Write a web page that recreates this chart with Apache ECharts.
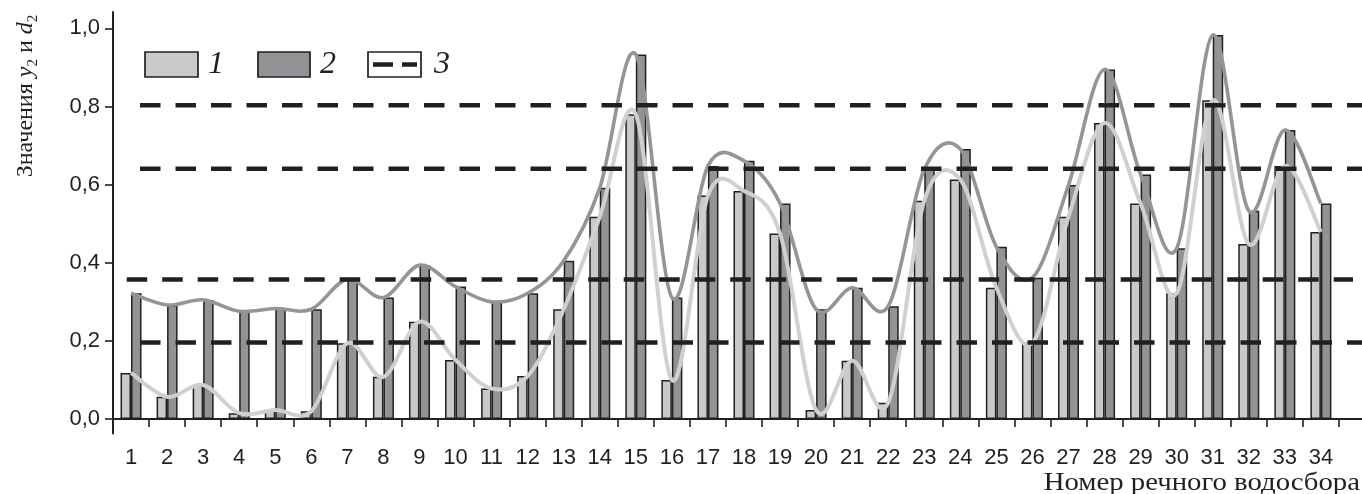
<!DOCTYPE html>
<html>
<head>
<meta charset="utf-8">
<style>
  html, body { margin: 0; padding: 0; background: #ffffff; }
  #chart { width: 1362px; height: 494px; }
</style>
<script src="https://cdn.jsdelivr.net/npm/echarts@6/dist/echarts.min.js"></script>
</head>
<body>
<div id="chart"></div>
<script>
// River catchment numbers (x categories)
const catchments = [1, 2, 3, 4, 5, 6, 7, 8, 9, 10, 11, 12, 13, 14, 15, 16, 17,
                    18, 19, 20, 21, 22, 23, 24, 25, 26, 27, 28, 29, 30, 31, 32, 33, 34];

// Series 1: y2 values
const y2Values = [0.118, 0.057, 0.087, 0.015, 0.023, 0.020, 0.194, 0.108, 0.249, 0.151,
                  0.078, 0.110, 0.281, 0.518, 0.780, 0.100, 0.572, 0.584, 0.475, 0.023,
                  0.149, 0.042, 0.559, 0.613, 0.336, 0.195, 0.518, 0.758, 0.552, 0.322,
                  0.816, 0.448, 0.648, 0.479];

// Series 2: d2 values
const d2Values = [0.322, 0.292, 0.305, 0.276, 0.283, 0.281, 0.358, 0.311, 0.394, 0.339,
                  0.300, 0.322, 0.405, 0.592, 0.933, 0.311, 0.648, 0.661, 0.552, 0.281,
                  0.336, 0.289, 0.639, 0.691, 0.441, 0.362, 0.599, 0.895, 0.626, 0.437,
                  0.983, 0.533, 0.740, 0.552];

// Series 3: threshold levels (dashed lines)
const thresholds = [0.803, 0.641, 0.357, 0.196];

// Y tick labels
const yTicks = [0, 0.2, 0.4, 0.6, 0.8, 1.0];

// ---- styling / layout ----
const INK = '#231f20';
const LIGHT = '#c8c9cb';
const DARK = '#929396';
const LIGHT_CURVE = '#cfd0d2';
const DARK_CURVE = '#939598';
const X_MIN = 0.5, X_MAX = 35.14;
// where each dashed level starts/ends along the x axis
const dashStart = [1.249, 1.249, 0.88, 1.249];
const dashEnd = [X_MAX, X_MAX, 34.89, X_MAX];

const xTicks = catchments.map(c => c - 0.5).concat([catchments[catchments.length - 1] + 0.5]);

const chart = echarts.init(document.getElementById('chart'), null, { renderer: 'canvas' });

const barSeries = (name, values, color) => ({
  name, type: 'bar', z: 2,
  data: catchments.map((c, i) => [c, values[i]]),
  barWidth: 10.5, barGap: '0%',
  itemStyle: { color, borderColor: INK, borderWidth: 1.5 },
  emphasis: { disabled: true }
});

// Smoothed curve through the points (cardinal spline, tension 1/6 per side)
const curveSeries = (name, values, color, width) => ({
  name, type: 'custom', z: 3,
  data: catchments.map((c, i) => [c, values[i]]),
  encode: { x: 0, y: 1 },
  silent: true,
  renderItem: (params, api) => {
    if (params.dataIndex !== 0) return null;
    const p = catchments.map((c, i) => api.coord([c, values[i]]));
    const n = p.length;
    let d = 'M' + p[0][0] + ' ' + p[0][1];
    for (let i = 0; i < n - 1; i++) {
      const p0 = p[Math.max(i - 1, 0)], p1 = p[i], p2 = p[i + 1], p3 = p[Math.min(i + 2, n - 1)];
      const c1x = p1[0] + (p2[0] - p0[0]) / 6, c1y = p1[1] + (p2[1] - p0[1]) / 6;
      const c2x = p2[0] - (p3[0] - p1[0]) / 6, c2y = p2[1] - (p3[1] - p1[1]) / 6;
      d += ' C' + c1x + ' ' + c1y + ' ' + c2x + ' ' + c2y + ' ' + p2[0] + ' ' + p2[1];
    }
    return {
      type: 'path',
      shape: { pathData: d },
      style: { fill: 'none', stroke: color, lineWidth: width, lineJoin: 'round' }
    };
  }
});

const levelSeries = thresholds.map((t, i) => ({
  name: 'level' + i, type: 'line', z: 4,
  data: [[dashStart[i], t], [dashEnd[i], t]],
  showSymbol: false, symbol: 'none',
  lineStyle: { color: INK, width: 4.5, type: [20.5, 15], cap: 'butt' },
  emphasis: { disabled: true }
}));

const serif = "'Liberation Serif', 'Times New Roman', serif";
const sans = "'Liberation Sans', Arial, sans-serif";

chart.setOption({
  animation: false,
  backgroundColor: '#ffffff',
  grid: { left: 113, right: 0, top: 12, bottom: 60.5 },
  xAxis: {
    type: 'value', min: X_MIN, max: X_MAX,
    axisLine: { onZero: true, lineStyle: { color: INK, width: 2 } },
    axisTick: { show: true, customValues: xTicks, length: 8, lineStyle: { color: INK, width: 1.6 } },
    axisLabel: {
      customValues: catchments, margin: 13, color: INK,
      fontFamily: sans, fontSize: 22, formatter: v => String(v)
    },
    splitLine: { show: false }
  },
  yAxis: {
    type: 'value', min: -0.037, max: 1.042,
    axisLine: { show: true, lineStyle: { color: INK, width: 2 } },
    axisTick: { show: true, customValues: yTicks, length: 8, lineStyle: { color: INK, width: 1.6 } },
    axisLabel: {
      customValues: yTicks, margin: 13, color: INK,
      fontFamily: sans, fontSize: 22,
      formatter: v => v.toFixed(1).replace('.', ',')
    },
    splitLine: { show: false }
  },
  series: [
    barSeries('1', y2Values, LIGHT),
    barSeries('2', d2Values, DARK),
    curveSeries('d2 curve', d2Values, DARK_CURVE, 3.6),
    curveSeries('y2 curve', y2Values, LIGHT_CURVE, 4)
  ].concat(levelSeries),
  graphic: [
    // legend
    { type: 'rect', shape: { x: 145, y: 52, width: 53, height: 25 },
      style: { fill: LIGHT, stroke: INK, lineWidth: 1.7 } },
    { type: 'text', x: 208, y: 65,
      style: { text: '1', fill: INK, font: 'italic 32px ' + serif, verticalAlign: 'middle' } },
    { type: 'rect', shape: { x: 258, y: 52, width: 52, height: 25 },
      style: { fill: DARK, stroke: INK, lineWidth: 1.7 } },
    { type: 'text', x: 320, y: 65,
      style: { text: '2', fill: INK, font: 'italic 32px ' + serif, verticalAlign: 'middle' } },
    { type: 'rect', shape: { x: 368, y: 52, width: 53, height: 25 },
      style: { fill: '#ffffff', stroke: INK, lineWidth: 1.7 } },
    { type: 'line', shape: { x1: 373, y1: 64.5, x2: 393, y2: 64.5 },
      style: { stroke: INK, lineWidth: 4.5 } },
    { type: 'line', shape: { x1: 402, y1: 64.5, x2: 417, y2: 64.5 },
      style: { stroke: INK, lineWidth: 4.5 } },
    { type: 'text', x: 434, y: 65,
      style: { text: '3', fill: INK, font: 'italic 32px ' + serif, verticalAlign: 'middle' } },
    // y axis title
    { type: 'text', x: 26, y: 96, rotation: Math.PI / 2,
      style: {
        text: '{a|Значения }{i|y}{s|2}{a| и }{i|d}{s|2}',
        align: 'center', verticalAlign: 'middle', fill: INK,
        rich: {
          a: { fontFamily: serif, fontSize: 24, lineHeight: 30, verticalAlign: 'middle', fill: INK },
          i: { fontFamily: serif, fontSize: 24, fontStyle: 'italic', lineHeight: 30, verticalAlign: 'middle', fill: INK },
          s: { fontFamily: serif, fontSize: 15, lineHeight: 16, verticalAlign: 'bottom', fill: INK }
        }
      } },
    // x axis title
    { type: 'text', x: 1360, y: 483, scaleX: 1.15,
      style: { text: 'Номер речного водосбора', fill: INK, font: '25px ' + serif,
               align: 'right', verticalAlign: 'middle' } }
  ]
});
</script>
</body>
</html>
